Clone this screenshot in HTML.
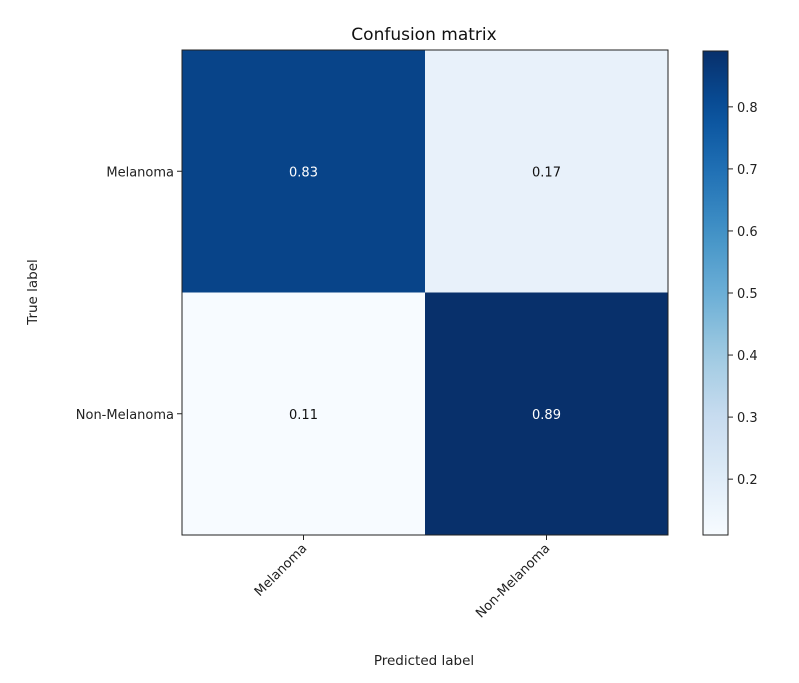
<!DOCTYPE html>
<html><head><meta charset="utf-8"><style>
body{margin:0;background:#fff;}
svg{font-family:"DejaVu Sans","Liberation Sans",sans-serif;}
</style></head><body>
<svg id="chart" width="799" height="678">
<text x="424" y="40" font-size="17" text-anchor="middle" fill="#111">Confusion matrix</text>
<g id="cells"></g>
<g id="cb"></g>
<text x="424" y="665" font-size="13.5" text-anchor="middle" fill="#222">Predicted label</text>
<text transform="translate(37,292) rotate(-90)" font-size="13.5" text-anchor="middle" fill="#222">True label</text>
</svg>
<script>
const categories=["Melanoma","Non-Melanoma"];
const values=[[0.83,0.17],[0.11,0.89]];
const cbTicks=[0.2,0.3,0.4,0.5,0.6,0.7,0.8];
const NS="http://www.w3.org/2000/svg";
const L=182,T=50,W=486,H=485;
const flat=values.flat();const vmin=Math.min(...flat),vmax=Math.max(...flat);
const stops=["#f7fbff","#deebf7","#c6dbef","#9ecae1","#6baed6","#4292c6","#2171b5","#08519c","#08306b"];
function hex(h){return [1,3,5].map(i=>parseInt(h.substr(i,2),16));}
function blues(t){t=Math.max(0,Math.min(1,t));const p=t*(stops.length-1);const i=Math.min(Math.floor(p),stops.length-2);const f=p-i;const a=hex(stops[i]),b=hex(stops[i+1]);return "rgb("+a.map((v,k)=>Math.round(v+(b[k]-v)*f)).join(",")+")";}
function norm(v){return (v-vmin)/(vmax-vmin);}
function mk(tag,attrs,parent){const e=document.createElementNS(NS,tag);for(const k in attrs)e.setAttribute(k,attrs[k]);parent.appendChild(e);return e;}
const svg=document.getElementById("chart");
const g=document.getElementById("cells");
const n=categories.length,cw=W/n,ch=H/n;
const xPos=j=>L+cw*(j+0.5), yPos=i=>T+ch*(i+0.5);
values.forEach((row,i)=>row.forEach((v,j)=>{
 const r=mk("rect",{x:L+cw*j,y:T+ch*i,width:cw,height:ch,fill:blues(norm(v))},g);
 
 
 const t=mk("text",{x:xPos(j),y:yPos(i)+5,"font-size":13,"text-anchor":"middle",fill:v>vmax/2?"#fff":"#111"},g);
 t.textContent=v.toFixed(2);
 
 
}));
const fr=mk("rect",{x:L,y:T,width:W,height:H,fill:"none",stroke:"#222","stroke-width":1},g);


categories.forEach((c,k)=>{
 const tx=mk("line",{x1:xPos(k),x2:xPos(k),y1:T+H,y2:T+H+5,stroke:"#222"},g);
 
 
 const lx=mk("text",{transform:"translate("+(xPos(k)+4)+","+(T+H+14)+") rotate(-45)","font-size":13,"text-anchor":"end",fill:"#222"},g);
 lx.textContent=c;
 
 
 const ty=mk("line",{x1:L-5,x2:L,y1:yPos(k),y2:yPos(k),stroke:"#222"},g);
 
 
 const ly=mk("text",{x:L-8,y:yPos(k)+5,"font-size":13,"text-anchor":"end",fill:"#222"},g);
 ly.textContent=c;
 
 
});
// colorbar
const cb=document.getElementById("cb");
const CX=703,CW=25,CT=51,CB=535;
const defs=mk("defs",{},cb);
const grad=mk("linearGradient",{id:"bl",x1:0,y1:1,x2:0,y2:0},defs);
for(let s=0;s<=20;s++)mk("stop",{offset:s/20,"stop-color":blues(s/20)},grad);
const cr=mk("rect",{x:CX,y:CT,width:CW,height:CB-CT,fill:"url(#bl)",stroke:"#222","stroke-width":1},cb);


const cy=v=>CB-(v-vmin)/(vmax-vmin)*(CB-CT);
cbTicks.forEach(v=>{
 const l=mk("line",{x1:CX+CW,x2:CX+CW+5,y1:cy(v),y2:cy(v),stroke:"#222"},cb);
 
 
 const t=mk("text",{x:CX+CW+9,y:cy(v)+5,"font-size":13,fill:"#222"},cb);
 t.textContent=v.toFixed(1);
 
 
});
</script>
</body></html>
